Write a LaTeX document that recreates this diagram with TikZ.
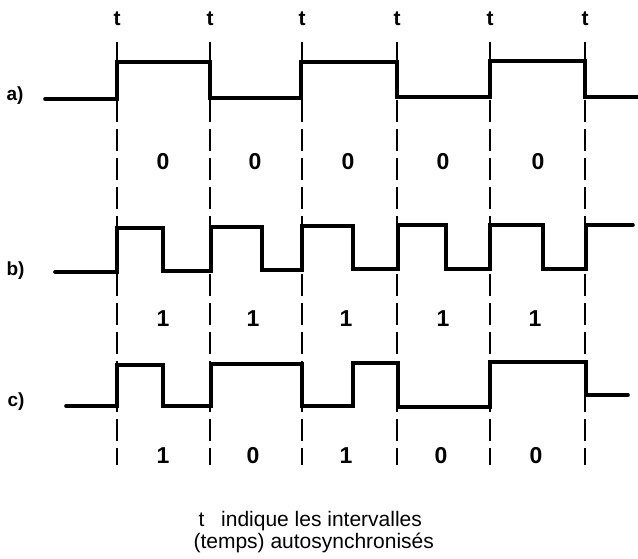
\documentclass[tikz,border=0pt]{standalone}
\usepackage{fontspec}
\setmainfont{Liberation Sans}
\begin{document}
\begin{tikzpicture}[x=1pt,y=-1pt,
  wave/.style={line width=3.6pt,line cap=round,line join=miter},
  guide/.style={line width=1.8pt,dash pattern=on 22pt off 7pt},
  tlab/.style={font=\fontsize{21}{21}\selectfont\bfseries},
  digit/.style={font=\fontsize{23}{23}\selectfont\bfseries},
  rowlab/.style={font=\fontsize{19}{19}\selectfont\bfseries,anchor=west},
  captext/.style={font=\fontsize{21}{21}\selectfont,anchor=west}]
\useasboundingbox (0,0) rectangle (638,558);
% vertical guide lines and t labels
\foreach \x/\n in {117/1,210/2,302/3,397/4,490/5,585/6}{
  \draw[guide] (\x,42) -- (\x,465);
  \node[tlab] (t\n) at (\x,19) {t};
}
% waveform a
\draw[wave] (45,99) -- (117,99) -- (117,62) -- (210,62) -- (210,98) -- (301,98) -- (301,62) -- (397,62) -- (397,97) -- (490,97) -- (490,61) -- (585,61) -- (585,97) -- (638,97);
% waveform b
\draw[wave] (55,272) -- (117,272) -- (117,228) -- (163,228) -- (163,271) -- (211,271) -- (211,227) -- (262,227) -- (262,270) -- (302,270) -- (302,226) -- (353,226) -- (353,269) -- (398,269) -- (398,225) -- (446,225) -- (446,269) -- (490,269) -- (490,225) -- (543,225) -- (543,269) -- (586,269) -- (586,225) -- (633,225);
% waveform c
\draw[wave] (66,406) -- (117,406) -- (117,365) -- (163,365) -- (163,406) -- (211,406) -- (211,364) -- (302,364) -- (302,406) -- (353,406) -- (353,363) -- (398,363) -- (398,407) -- (490,407) -- (490,362) -- (586,362) -- (586,395) -- (628,395);
% row labels
\node[rowlab] (la) at (3,96) {a)};
\node[rowlab] (lb) at (3,271) {b)};
\node[rowlab] (lc) at (4,402) {c)};
% digits
\foreach \x/\d/\n in {163/0/1,255/0/2,348/0/3,443/0/4,538/0/5}{\node[digit] (a\n) at (\x,162) {\d};}
\foreach \x/\d/\n in {163/1/1,253/1/2,346/1/3,443/1/4,535/1/5}{\node[digit] (b\n) at (\x,319) {\d};}
\foreach \x/\d/\n in {163/1/1,253/0/2,346/1/3,441/0/4,536/0/5}{\node[digit] (c\n) at (\x,456) {\d};}
% caption
\node[captext] (cap1) at (195,521) {t\hspace{0.8em}indique les intervalles};
\node[captext] (cap2) at (190,543) {(temps) autosynchronisés};
\end{tikzpicture}
\end{document}
